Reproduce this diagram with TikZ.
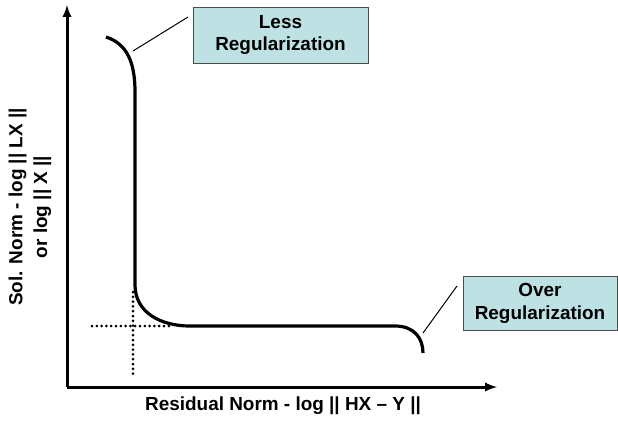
\documentclass[tikz,border=0pt]{standalone}
\usepackage{fontspec}
\setmainfont{Liberation Sans}
\usepackage{tikz}
\usetikzlibrary{arrows}
\definecolor{boxfill}{RGB}{190,226,228}
\tikzstyle{labelBox}=[shape = rectangle, draw = black!70, fill = boxfill, line width = 0.8bp, align = center, inner sep = 0pt, font = \bfseries\fontsize{19}{23}\selectfont]
\tikzstyle{axisLabel}=[align = center, inner sep = 0pt, font = \bfseries\fontsize{19}{25}\selectfont]

\begin{document}
\begin{tikzpicture}[x = 1bp, y = -1bp, >=latex]
\tikzstyle{axisStyle} = [line width = 3bp]
\tikzstyle{curveStyle} = [line width = 3.2bp]
\tikzstyle{guideStyle} = [line width = 3bp, line cap = round, dash pattern = on 0bp off 4.8bp]
\tikzstyle{leaderStyle} = [line width = 1bp]
\useasboundingbox (0,0) rectangle (618,420);
% axes
\coordinate (o) at (67,387);
\coordinate (ytop) at (67,5);
\coordinate (xend) at (497,387);
\draw[axisStyle, ->] (o) -- (ytop);
\draw[axisStyle, ->] (o) -- (xend);
% L-curve
\coordinate (c0) at (106,37);
\coordinate (c1) at (135,92);
\coordinate (c2) at (135,285);
\coordinate (c3) at (190,326);
\coordinate (c4) at (395,326);
\coordinate (c5) at (423,353);
\draw[curveStyle] (c0) .. controls (128,44) and (135,64) .. (c1) -- (c2)
  .. controls (135,312) and (160,326) .. (c3) -- (c4)
  .. controls (414,326) and (423,338) .. (c5);
% corner guides
\coordinate (gv0) at (133,292);
\coordinate (gv1) at (133,375);
\coordinate (gh0) at (92,326);
\coordinate (gh1) at (170,326);
\draw[guideStyle] (gv0) -- (gv1);
\draw[guideStyle] (gh0) -- (gh1);
% callouts
\node[labelBox, minimum width = 175bp, minimum height = 56bp] (less) at (280.5,35) {Less\\Regularization};
\node[labelBox, minimum width = 154bp, minimum height = 54bp] (over) at (540,303) {Over\\Regularization};
\coordinate (lessTip) at (133,51);
\coordinate (lessEnd) at (188,17);
\coordinate (overTip) at (423,333);
\coordinate (overEnd) at (457,286);
\draw[leaderStyle] (lessTip) -- (lessEnd);
\draw[leaderStyle] (overTip) -- (overEnd);
% axis labels
\node[axisLabel, rotate = 90] (ylab) at (30,207) {Sol. Norm - log || LX ||\\or log || X ||};
\node[axisLabel] (xlab) at (283,406) {Residual Norm - log || HX -- Y ||};
\end{tikzpicture}
\end{document}
